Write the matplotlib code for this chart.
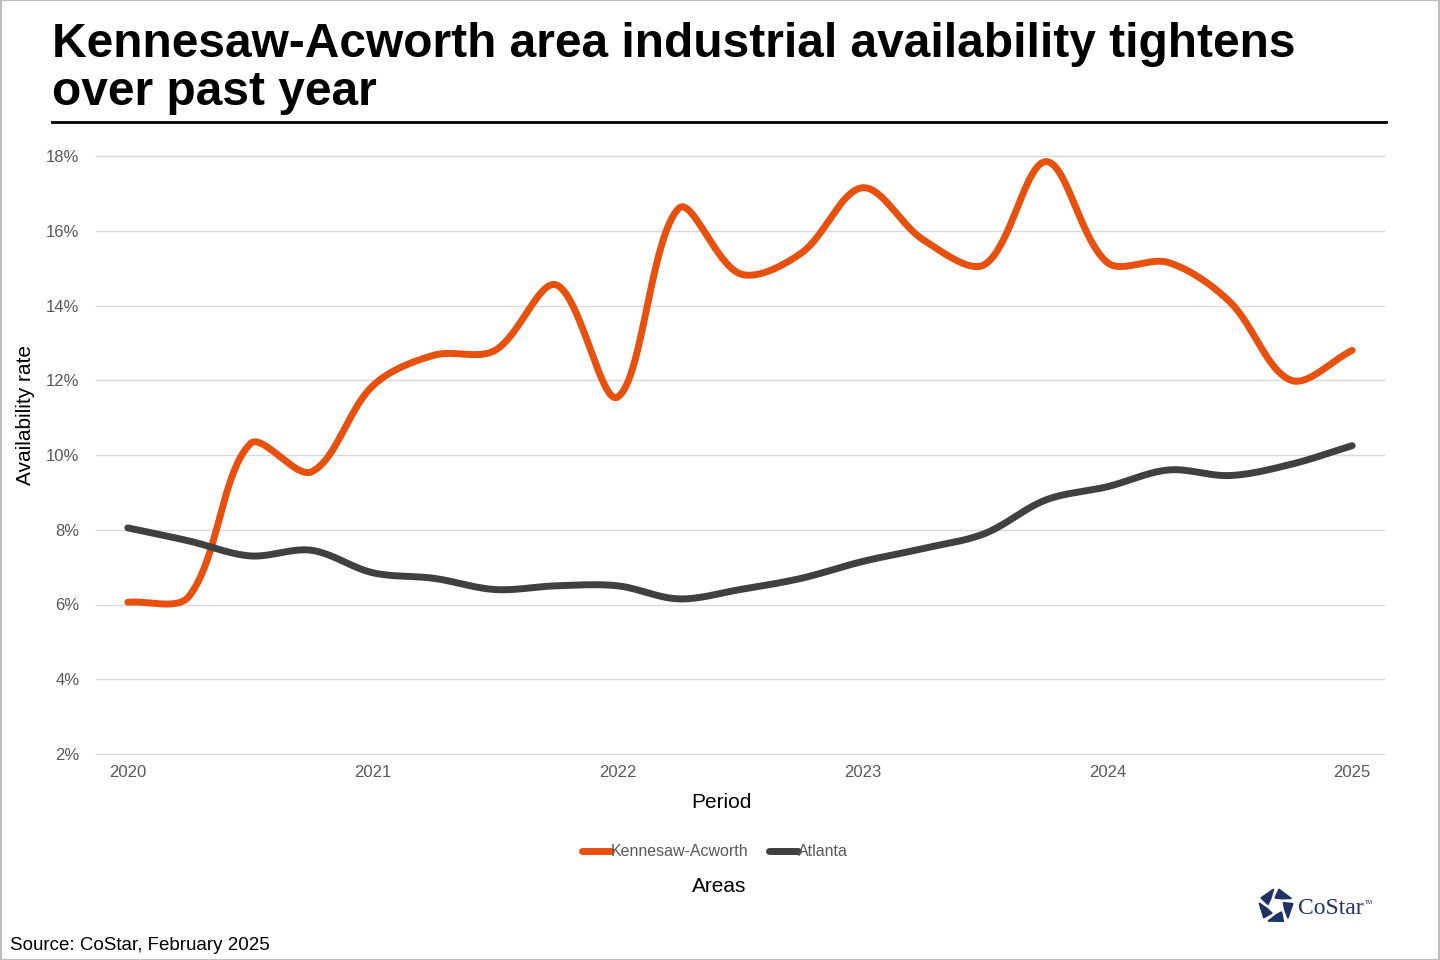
import matplotlib.pyplot as plt
from matplotlib.patches import Polygon
import numpy as np

plt.rcParams['font.family'] = ['Liberation Sans', 'DejaVu Sans']

# quarterly availability rate, Q1 2020 .. Q1 2025
quarters = np.arange(21)
year_labels = ["2020", "2021", "2022", "2023", "2024", "2025"]
kennesaw = [6.06, 6.22, 10.3, 9.55, 11.85, 12.67, 12.8, 14.55, 11.55, 16.6, 14.85,
            15.4, 17.15, 15.75, 15.1, 17.85, 15.15, 15.15, 14.1, 12.0, 12.8]
atlanta = [8.05, 7.7, 7.3, 7.45, 6.85, 6.7, 6.4, 6.5, 6.5, 6.15, 6.4,
           6.7, 7.15, 7.5, 7.9, 8.8, 9.15, 9.6, 9.45, 9.75, 10.25]

XS, YS = 61.25, 37.4  # px per quarter / px per percent, used to weight the smoothing


def smooth(x, y, n=40):
    # bezier through the points, control handles weighted by segment length (Excel-like smoothing)
    P = np.column_stack([np.asarray(x, float) * XS, np.asarray(y, float) * YS])
    m = len(P)
    ext = np.vstack([2 * P[0] - P[1], P, 2 * P[-1] - P[-2]])
    seg = np.linalg.norm(np.diff(ext, axis=0), axis=1)
    fwd, back = [], []
    for i in range(1, m + 1):
        d = ext[i + 1] - ext[i - 1]
        l0, l1 = seg[i - 1], seg[i]
        back.append(ext[i] - d * l0 / (l0 + l1) / 3)
        fwd.append(ext[i] + d * l1 / (l0 + l1) / 3)
    t = np.linspace(0, 1, n, endpoint=False)[:, None]
    pts = []
    for i in range(m - 1):
        a, b, c, e = P[i], fwd[i], back[i + 1], P[i + 1]
        pts.append((1 - t) ** 3 * a + 3 * (1 - t) ** 2 * t * b + 3 * (1 - t) * t ** 2 * c + t ** 3 * e)
    pts.append(P[-1:])
    pts = np.vstack(pts)
    return pts[:, 0] / XS, pts[:, 1] / YS


fig = plt.figure(figsize=(14.4, 9.6), dpi=100)
ax = fig.add_axes([96 / 1440, 1 - 754 / 960, (1384 - 96) / 1440, (754 - 156) / 960])

kx, ky = smooth(quarters, kennesaw)
gx, gy = smooth(quarters, atlanta)
ax.plot(kx, ky, color='#E8500E', lw=5, solid_capstyle='round', label='Kennesaw-Acworth', zorder=3)
ax.plot(gx, gy, color='#404040', lw=5, solid_capstyle='round', label='Atlanta', zorder=3)

ax.set_xlim(-0.52, 20.52)
ax.set_ylim(2, 18)
ax.set_yticks(np.arange(2, 19, 2))
ax.set_yticklabels([f"{v}%" for v in range(2, 19, 2)])
ax.set_xticks(quarters[::4])
ax.set_xticklabels(year_labels)
ax.grid(axis='y', color='#D9D9D9', lw=1)
for gl in ax.get_ygridlines():
    gl.set_clip_on(False)
ax.set_axisbelow(True)
for s in ax.spines.values():
    s.set_visible(False)
ax.tick_params(length=0, labelsize=12, labelcolor='#595959')
ax.tick_params(axis='x', pad=8)
ax.tick_params(axis='y', pad=12)

fig.text(721 / 1440, 1 - 803 / 960, "Period", fontsize=15, ha='center', va='center')
fig.text(26 / 1440, 1 - 415 / 960, "Availability rate", fontsize=15, rotation=90, ha='center', va='center')

leg = fig.legend(loc='center', bbox_to_anchor=(715 / 1440, 1 - 852 / 960), ncol=2, frameon=False,
                 fontsize=11.5, handlelength=1.8, handletextpad=0.0, columnspacing=1.3)
for t in leg.get_texts():
    t.set_color('#595959')
fig.text(719 / 1440, 1 - 886 / 960, "Areas", fontsize=15, ha='center', va='center')

# title (two lines) and rule
fig.text(52 / 1440, 1 - 57 / 960, "Kennesaw-Acworth area industrial availability tightens",
         fontsize=34.5, fontweight='bold', ha='left', va='baseline')
fig.text(52 / 1440, 1 - 105 / 960, "over past year",
         fontsize=34.5, fontweight='bold', ha='left', va='baseline')
fig.add_artist(plt.Line2D([52 / 1440, 1386 / 1440], [1 - 122 / 960] * 2, color='black', lw=2))

fig.text(10 / 1440, 1 - 945 / 960, "Source: CoStar, February 2025", fontsize=13.5, ha='left', va='center')

# CoStar logo: ring of five blue pieces plus wordmark
logo = fig.add_axes([1258 / 1440, 1 - 924 / 960, 36 / 1440, 36 / 960])
logo.set_xlim(-1, 1)
logo.set_ylim(-1, 1)
logo.axis('off')
for k in range(5):
    a0 = np.deg2rad(90 + 72 * k + 8)
    a1 = np.deg2rad(90 + 72 * k + 62)
    am = np.deg2rad(90 + 72 * k + 35)
    piece = [(0.95 * np.cos(a0), 0.95 * np.sin(a0)), (0.95 * np.cos(a1), 0.95 * np.sin(a1)),
             (0.45 * np.cos(a1 + 0.3), 0.45 * np.sin(a1 + 0.3)), (0.5 * np.cos(am), 0.5 * np.sin(am))]
    logo.add_patch(Polygon(piece, closed=True, color='#1F3264'))
fig.text(1298 / 1440, 1 - 908 / 960, "CoStar", fontsize=17, family='Liberation Serif', color='#1F3264',
         ha='left', va='center')
fig.text(1365 / 1440, 1 - 902 / 960, "TM", fontsize=4, color='#1F3264', ha='left', va='center')

# outer border
fig.add_artist(plt.Rectangle((0.0005, 0.0005), 0.999, 0.999, transform=fig.transFigure, fill=False,
                             edgecolor='#BFBFBF', lw=1.5))

plt.savefig("out.png", dpi=100)
